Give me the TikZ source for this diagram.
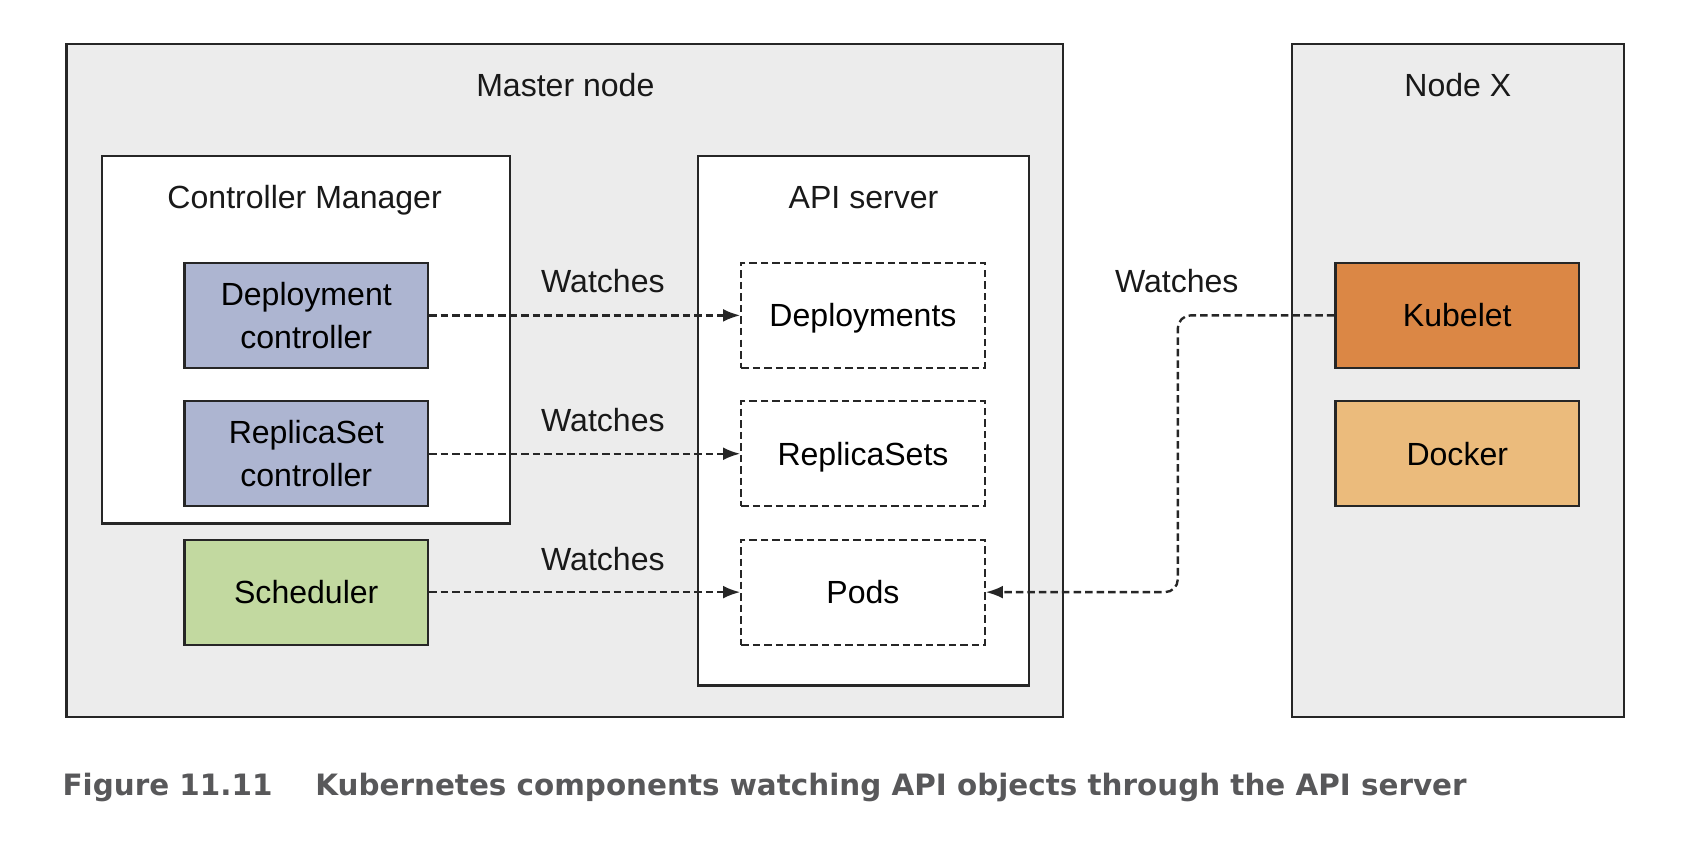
\documentclass[tikz,border=0pt]{standalone}
\usepackage{fontspec}
\setmainfont{Liberation Sans}
\newfontfamily\captionfont{DejaVu Sans}
\usepackage{xcolor}
\usepackage{tikz}
\usetikzlibrary{arrows.meta}
\definecolor{outergray}{HTML}{ECECEC}
\definecolor{ctrlblue}{HTML}{ADB5D1}
\definecolor{schedgreen}{HTML}{C2D9A0}
\definecolor{kubeorange}{HTML}{DB8745}
\definecolor{dockerorange}{HTML}{EBBB7C}
\definecolor{captiongray}{HTML}{58585A}
\tikzstyle{node:box}=[draw=black!85,line width=1.1pt,font=\fontsize{17pt}{23pt}\selectfont,align=center]
\tikzstyle{node:machine}=[node:box,fill=outergray,minimum width=185.8mm,minimum height=125.4mm]
\tikzstyle{node:process}=[node:box,fill=white]
\tikzstyle{node:component}=[node:box,minimum width=45.4mm,minimum height=19.6mm]
\tikzstyle{node:oneline}=[text height=12.3pt,text depth=0pt]
\tikzstyle{node:object}=[node:component,node:oneline,fill=white,dash pattern=on 1.4mm off 0.75mm]
\tikzstyle{node:label}=[node:oneline,font=\fontsize{17pt}{23pt}\selectfont,text=black!90]
\tikzstyle{draw:watch}=[-{Latex[length=3.2mm,width=2.4mm]},line width=1.25pt,draw=black!85,dash pattern=on 1.4mm off 0.75mm]

\begin{document}
\begin{tikzpicture}[x=0.2mm,y=-0.2mm]
        \useasboundingbox (0,0) rectangle (1568,790.5);

        % Machines
        \node[node:machine] (master) at (526.5,354.5) {};
        \node[node:machine,minimum width=62mm] (nodex) at (1359,354.5) {};
        \node[node:label] (masterlabel) at (527,79) {Master node};
        \node[node:label] (nodexlabel) at (1359,79) {Node X};

        % Processes on the master
        \node[node:process,minimum width=76mm,minimum height=68.6mm] (cm) at (285,316.5) {};
        \node[node:process,minimum width=61.6mm,minimum height=98.8mm] (api) at (805,392) {};
        \node[node:label] (cmlabel) at (284,184) {Controller Manager};
        \node[node:label] (apilabel) at (805,184) {API server};

        % Controllers and scheduler
        \node[node:component,fill=ctrlblue] (depctrl) at (285.5,294) {Deployment\\controller};
        \node[node:component,fill=ctrlblue] (rsctrl) at (285.5,423) {ReplicaSet\\controller};
        \node[node:component,node:oneline,fill=schedgreen] (sched) at (285.5,552) {Scheduler};

        % API objects
        \node[node:object] (deps) at (804.5,294) {Deployments};
        \node[node:object] (rss) at (804.5,423) {ReplicaSets};
        \node[node:object] (pods) at (804.5,552) {Pods};

        % Node X
        \node[node:component,node:oneline,fill=kubeorange] (kubelet) at (1358.5,294) {Kubelet};
        \node[node:component,node:oneline,fill=dockerorange] (docker) at (1358.5,423) {Docker};

        % Watches
        \draw[draw:watch] (depctrl) -- (deps);
        \draw[draw:watch] (rsctrl) -- (rss);
        \draw[draw:watch] (sched) -- (pods);
        \coordinate (bend) at (1098,294);
        \draw[draw:watch,rounded corners=2.4mm] (kubelet.west) -- (bend) |- (pods.east);

        \node[node:label] (watch1) at (562,262) {Watches};
        \node[node:label] (watch2) at (562,391) {Watches};
        \node[node:label] (watch3) at (562,521) {Watches};
        \node[node:label] (watch4) at (1097,262) {Watches};

        % Caption
        \node[anchor=base west,inner sep=0pt,text=captiongray,font=\captionfont\bfseries\fontsize{15.6pt}{18pt}\selectfont] (caption) at (58,742) {Figure 11.11\hspace{8mm}Kubernetes components watching API objects through the API server};

    \end{tikzpicture}
\end{document}
